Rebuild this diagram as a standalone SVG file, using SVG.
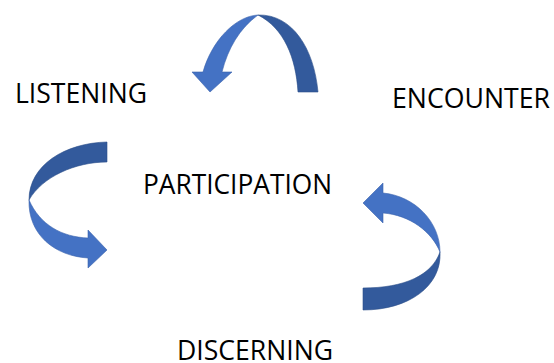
<svg xmlns="http://www.w3.org/2000/svg" width="554" height="363" viewBox="0 0 554 363">
<style>
.lt{fill:#4472C4;stroke:#3A63AD;stroke-width:0.6}
.dk{fill:#335A9C;stroke:#2C4F8A;stroke-width:0.6}
.lbl{font-family:"Open Sans","Liberation Sans",sans-serif;font-size:27px;fill:#000}
</style>
<rect width="554" height="363" fill="#fff"/>
<g id="connectors">
<g id="arrow-top">
<path class="dk" d="M258,15 C292,14 314,48 318,92 L298,92 C296,58 284,28 258,15 Z"/>
<path class="lt" d="M258,15 C236,16 212,40 203,72 L192,72 L210,92 L232,72 L222,72 C228,48 240,28 258,15 Z"/>
</g>
<g id="arrow-left">
<path class="dk" d="M107,142 C65,143 29,165 29,200 C42,177 75,162 107,162 Z"/>
<path class="lt" d="M29,200 C28,235 55,256 88,258 L88,268 L107,250 L88,230 L88,238 C62,237 40,225 29,200 Z"/>
</g>
<g id="arrow-right">
<path class="lt" d="M440,252 C440,222 415,196 383,193 L383,183 L363,203 L383,223 L383,213 C410,215 432,232 440,252 Z"/>
<path class="dk" d="M440,252 C442,285 410,310 363,310 L363,288 C405,288 432,275 440,252 Z"/>
</g>
</g>
<g id="node-listening"><text class="lbl" x="15" y="103" textLength="132" lengthAdjust="spacingAndGlyphs">LISTENING</text></g>
<g id="node-encounter"><text class="lbl" x="392" y="108" textLength="158" lengthAdjust="spacingAndGlyphs">ENCOUNTER</text></g>
<g id="node-participation"><text class="lbl" x="143" y="194" textLength="189" lengthAdjust="spacingAndGlyphs">PARTICIPATION</text></g>
<g id="node-discerning"><text class="lbl" x="177" y="360" textLength="156" lengthAdjust="spacingAndGlyphs">DISCERNING</text></g>
</svg>
